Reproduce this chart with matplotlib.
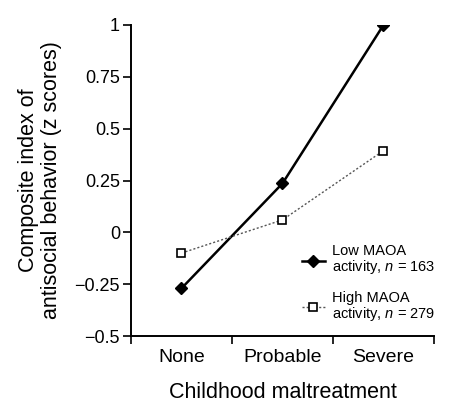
import matplotlib
matplotlib.use('Agg')
import matplotlib.pyplot as plt
import numpy as np

plt.rcParams['font.family'] = ['Liberation Sans', 'DejaVu Sans']
plt.rcParams['mathtext.fontset'] = 'custom'
plt.rcParams['mathtext.rm'] = 'Liberation Sans'
plt.rcParams['mathtext.it'] = 'Liberation Sans:italic'

# data
categories = ['None', 'Probable', 'Severe']
low_maoa = [-0.27, 0.236, 1.0]
high_maoa = [-0.10, 0.06, 0.394]
low_label = 'Low MAOA\nactivity, $n$ = 163'
high_label = 'High MAOA\nactivity, $n$ = 279'
yticks = [-0.5, -0.25, 0, 0.25, 0.5, 0.75, 1]
ytick_labels = ['\u22120.5', '\u22120.25', '0', '0.25', '0.5', '0.75', '1']

fig = plt.figure(figsize=(4.59, 4.07), dpi=100)
ax = fig.add_axes([0.2854, 0.1744, 0.6601, 0.7642])

x = np.arange(len(categories))
ax.plot(x, low_maoa, color='black', lw=1.8, marker='D', ms=6,
        label=low_label)
ax.plot(x, high_maoa, color='#555555', lw=1.0, ls=(0, (1.5, 1.5)),
        marker='s', ms=6, mfc='white', mec='black', mew=1.2,
        label=high_label)

ax.set_xlim(-0.5, 2.5)
ax.set_ylim(-0.5, 1)
ax.set_xticks(x)
ax.set_xticklabels(categories, fontsize=14)
ax.set_xticks([-0.5, 0.5, 1.5, 2.5], minor=True)
ax.tick_params(axis='x', which='major', length=0, pad=9)
ax.tick_params(axis='x', which='minor', length=6, width=1.2, direction='out')
ax.set_yticks(yticks)
ax.set_yticklabels(ytick_labels, fontsize=13)
ax.tick_params(axis='y', length=6, width=1.2, direction='out', pad=2)

for s in ['top', 'right']:
    ax.spines[s].set_visible(False)
for s in ['left', 'bottom']:
    ax.spines[s].set_linewidth(1.4)

ax.set_xlabel('Childhood maltreatment', fontsize=15.5, labelpad=12)
ax.set_ylabel('Composite index of\nantisocial behavior (z scores)',
              fontsize=15.5, labelpad=9, linespacing=1.1)

leg = ax.legend(loc='lower left', bbox_to_anchor=(0.52, 0.0), frameon=False,
                fontsize=10.5, handlelength=1.6, labelspacing=1.0,
                handletextpad=0.5)
for t in leg.get_texts():
    t.set_linespacing(1.0)

fig.savefig('out.png', dpi=100)
